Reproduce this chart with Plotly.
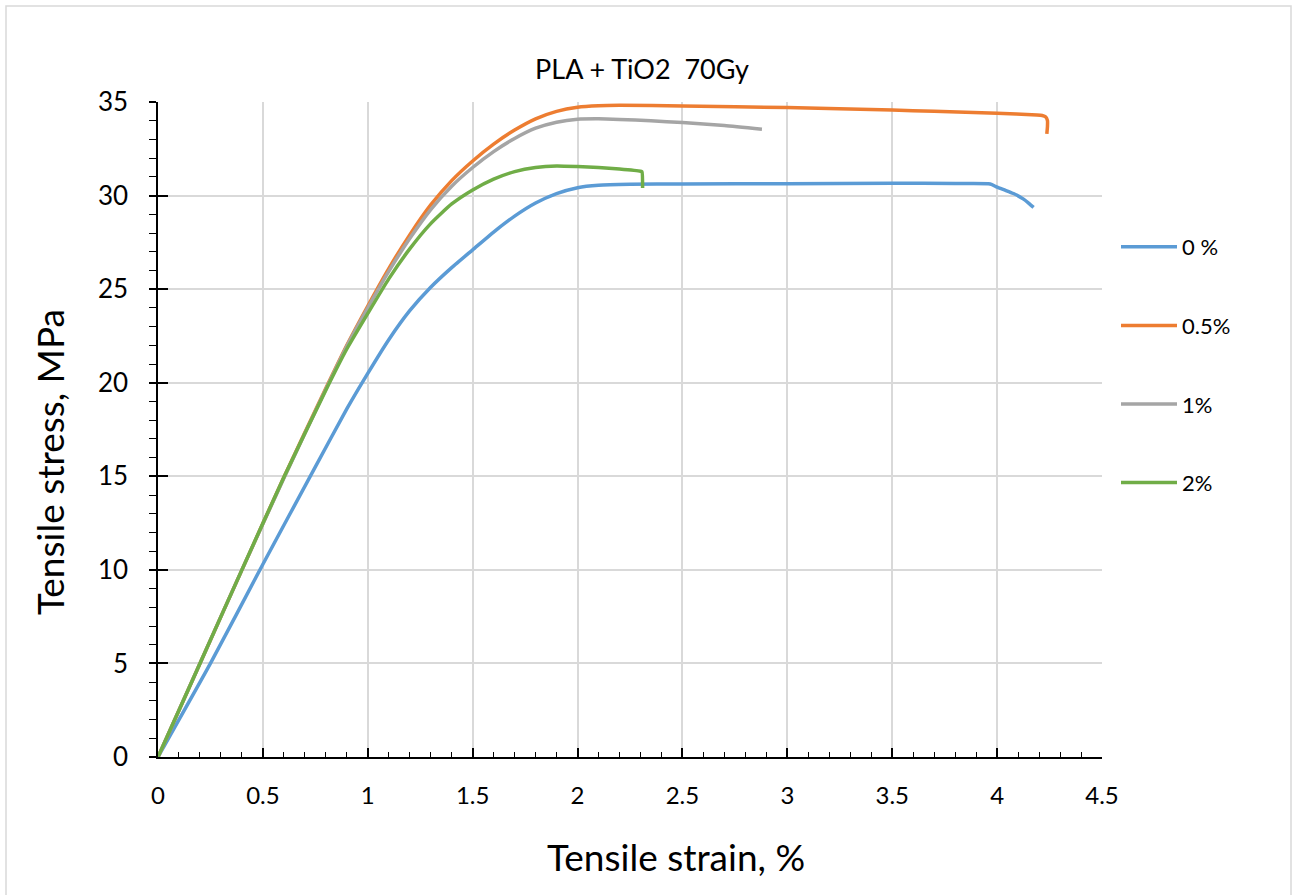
import plotly.graph_objects as go

# Tensile stress-strain curves, PLA + TiO2 irradiated at 70 Gy
strain_0 = [0, 0.25, 0.5, 0.75, 0.9, 1.0, 1.1, 1.2, 1.3, 1.4, 1.5, 1.6, 1.7, 1.8, 1.9,
            2.0, 2.1, 2.25, 2.5, 3.0, 3.5, 3.8, 3.967, 4.0, 4.04, 4.078, 4.126, 4.15, 4.174]
stress_0 = [0, 5.0, 10.3, 15.5, 18.6, 20.5, 22.3, 23.85, 25.1, 26.15, 27.1, 28.05, 28.9, 29.6, 30.1,
            30.42, 30.55, 30.6, 30.62, 30.63, 30.66, 30.64, 30.62, 30.45, 30.28, 30.11, 29.81, 29.6, 29.37]

strain_05 = [0, 0.2, 0.4, 0.6, 0.8, 0.9, 1.0, 1.1, 1.2, 1.3, 1.4, 1.5, 1.6, 1.7, 1.8, 1.9,
             2.0, 2.1, 2.2, 2.5, 3.0, 3.5, 3.7, 4.0, 4.19, 4.215, 4.232, 4.24, 4.24, 4.237]
stress_05 = [0, 5.0, 10.0, 14.95, 19.7, 22.0, 24.1, 26.1, 27.9, 29.5, 30.8, 31.85, 32.75, 33.5, 34.1, 34.5,
             34.72, 34.8, 34.82, 34.79, 34.7, 34.57, 34.5, 34.4, 34.31, 34.28, 34.2, 34.0, 33.7, 33.3]

strain_1 = [0, 0.2, 0.4, 0.6, 0.8, 0.9, 1.0, 1.1, 1.2, 1.3, 1.4, 1.5, 1.6, 1.7, 1.8, 1.9,
            2.0, 2.1, 2.2, 2.35, 2.5, 2.7, 2.879]
stress_1 = [0, 5.0, 10.0, 14.9, 19.65, 21.95, 24.0, 25.95, 27.7, 29.25, 30.5, 31.5, 32.35, 33.05, 33.6, 33.92,
            34.08, 34.1, 34.07, 34.0, 33.9, 33.75, 33.55]

strain_2 = [0, 0.2, 0.4, 0.6, 0.8, 0.9, 1.0, 1.1, 1.2, 1.3, 1.4, 1.5, 1.6, 1.7, 1.8, 1.9,
            2.0, 2.1, 2.2, 2.3, 2.307, 2.31]
stress_2 = [0, 5.0, 10.0, 14.95, 19.6, 21.8, 23.7, 25.55, 27.15, 28.5, 29.55, 30.3, 30.88, 31.28, 31.5, 31.58,
            31.55, 31.5, 31.42, 31.3, 31.27, 30.4]

series = [
    ("0 %", strain_0, stress_0, "#5b9bd5"),
    ("0.5%", strain_05, stress_05, "#ed7d31"),
    ("1%", strain_1, stress_1, "#a5a5a5"),
    ("2%", strain_2, stress_2, "#70ad47"),
]

chart_title = "PLA + TiO2  70Gy"
x_title = "Tensile strain, %"
y_title = "Tensile stress, MPa"

FONT = "Lato, 'Open Sans', sans-serif"

fig = go.Figure()
for name, xs, ys, color in series:
    fig.add_trace(go.Scatter(
        x=xs, y=ys, mode="lines", name=name, legendgroup=name,
        line=dict(color=color, width=3.5, shape="spline", smoothing=0.5),
    ))

# secondary y axis only for the inner half of the crossing major ticks
fig.add_trace(go.Scatter(x=[0], y=[0], yaxis="y2", mode="markers",
                         marker=dict(opacity=0), showlegend=False, hoverinfo="skip"))

L, R, T, B = 158, 197, 102, 138
W, H = 1299, 895
pw, ph = W - L - R, H - T - B

def px_x(px):
    return (px - L) / pw

def px_y(py):
    return (H - B - py) / ph

fig.update_layout(
    width=W, height=H,
    margin=dict(l=L, r=R, t=T, b=B),
    paper_bgcolor="white", plot_bgcolor="white",
    font=dict(family=FONT, color="#000000"),
    title=dict(text=chart_title, x=642 / W, xanchor="center",
               y=1 - 70 / H, yanchor="middle", font=dict(size=27, family=FONT)),
    showlegend=True,
    legend=dict(x=px_x(1116), xanchor="left", y=px_y(226), yanchor="top",
                font=dict(size=22, family=FONT), tracegroupgap=47,
                itemwidth=56, bgcolor="rgba(0,0,0,0)"),
    xaxis=dict(
        range=[0, 4.5], dtick=0.5, tick0=0,
        showgrid=True, gridcolor="#d9d9d9", gridwidth=1.5,
        showline=True, linecolor="#000000", linewidth=1.5,
        ticks="inside", ticklen=9, tickwidth=1.5, tickcolor="#000000",
        minor=dict(dtick=0.1, ticks="inside", ticklen=5, tickwidth=1.2,
                   tickcolor="#000000", showgrid=False),
        tickfont=dict(size=24, family=FONT), ticklabelstandoff=16,
        zeroline=False,
    ),
    yaxis=dict(
        range=[0, 35], dtick=5, tick0=0,
        showgrid=True, gridcolor="#d9d9d9", gridwidth=1.5,
        showline=True, linecolor="#000000", linewidth=1.5,
        ticks="outside", ticklen=7, tickwidth=1.5, tickcolor="#000000",
        minor=dict(dtick=1, ticks="outside", ticklen=7, tickwidth=1.2,
                   tickcolor="#000000", showgrid=False),
        tickfont=dict(size=26, family=FONT), ticklabelstandoff=16,
        zeroline=False,
    ),
    yaxis2=dict(
        range=[0, 35], dtick=5, tick0=0, overlaying="y", side="left",
        showgrid=False, showline=False, zeroline=False,
        ticks="inside", ticklen=10, tickwidth=1.5, tickcolor="#000000",
        showticklabels=False,
    ),
    shapes=[dict(type="rect", xref="paper", yref="paper",
                 x0=px_x(6), x1=px_x(1291), y0=px_y(900), y1=px_y(6),
                 line=dict(color="#d9d9d9", width=1.5), fillcolor="rgba(0,0,0,0)",
                 layer="below")],
    annotations=[
        dict(text=x_title, xref="paper", yref="paper", x=px_x(676), y=px_y(856),
             xanchor="center", yanchor="middle", showarrow=False,
             font=dict(size=37, family=FONT)),
        dict(text=y_title, xref="paper", yref="paper", x=px_x(49), y=px_y(462),
             xanchor="center", yanchor="middle", showarrow=False, textangle=-90,
             font=dict(size=37, family=FONT)),
    ],
)

fig.write_html("out.html")
